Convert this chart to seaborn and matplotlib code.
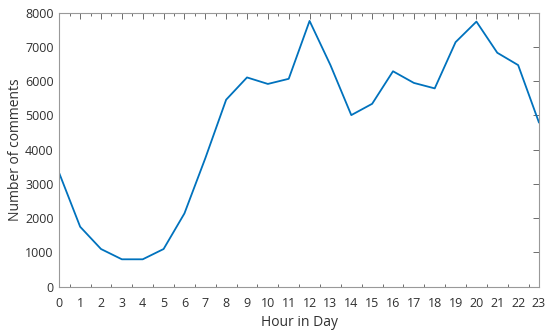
import matplotlib
matplotlib.use("Agg")
import matplotlib.pyplot as plt
import seaborn as sns
import pandas as pd
from matplotlib.ticker import MultipleLocator

hours = list(range(24))
comments = [3310, 1750, 1100, 800, 800, 1100, 2140, 3750, 5460, 6110, 5920, 6070,
            7760, 6470, 5010, 5340, 6290, 5950, 5790, 7140, 7740, 6830, 6470, 4790]
xticklabels = [str(h) for h in hours]
yticks = [0, 1000, 2000, 3000, 4000, 5000, 6000, 7000, 8000]

df = pd.DataFrame({"Hour": hours, "Comments": comments})

sns.set_style("white")
plt.rcParams['font.family'] = ['Open Sans', 'DejaVu Sans']

fig = plt.figure(figsize=(5.5, 3.33), dpi=100)
ax = fig.add_axes([59.3/550, (333-286.7)/333, (539-59.3)/550, (286.7-12.7)/333])
sns.lineplot(data=df, x="Hour", y="Comments", ax=ax, color="#0072BD", linewidth=1.3)

ax.set_xlim(0, 23)
ax.set_ylim(0, 8000)
ax.set_xticks(hours)
ax.set_xticklabels(xticklabels)
ax.set_yticks(yticks)
ax.xaxis.set_minor_locator(MultipleLocator(0.5))
ax.tick_params(axis='both', which='major', direction='in', length=4, width=0.6,
               color='#555555', labelsize=9, labelcolor='#303030', top=True, right=True)
ax.tick_params(axis='x', which='minor', direction='in', length=2, width=0.6,
               color='#555555', top=True, bottom=True)
ax.tick_params(axis='x', pad=7.5)
ax.tick_params(axis='y', pad=4)
for s in ax.spines.values():
    s.set_color('#999999')
    s.set_linewidth(0.8)
ax.set_xlabel("Hour in Day", fontsize=10, color='#303030', labelpad=3.5)
ax.set_ylabel("Number of comments", fontsize=10, color='#303030', labelpad=1.5)

fig.savefig("out.png", dpi=100)
